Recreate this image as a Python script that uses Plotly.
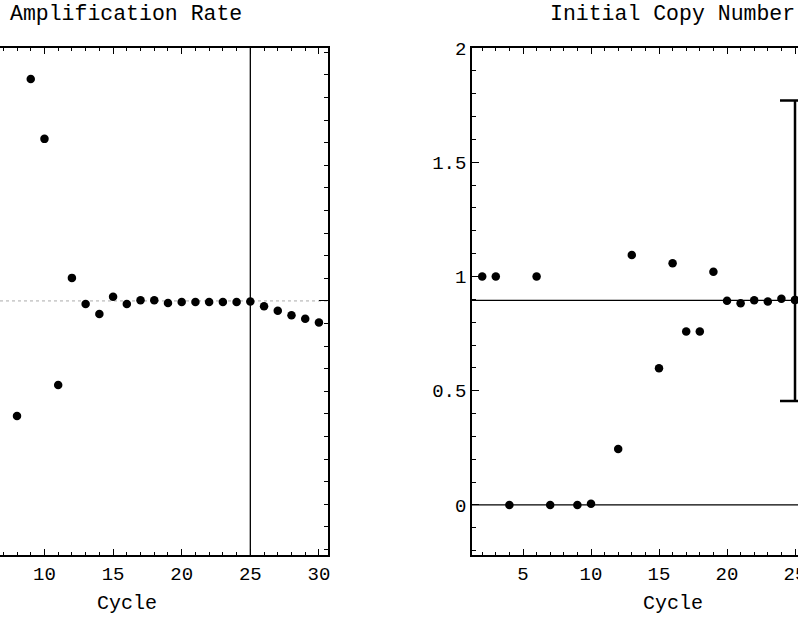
import plotly.graph_objects as go

# ---- data ----
rate_cycles = [8, 9, 10, 11, 12, 13, 14, 15, 16, 17, 18, 19, 20, 21, 22, 23, 24, 25, 26, 27, 28, 29, 30]
rate_values = [0.491, 1.982, 1.717, 0.628, 1.102, 0.986, 0.942, 1.019, 0.986, 1.003, 1.003, 0.991,
               0.995, 0.995, 0.995, 0.995, 0.995, 0.997, 0.976, 0.957, 0.937, 0.921, 0.905]
rate_reference = 1.0
rate_cutoff_cycle = 25

copy_cycles = [2, 3, 4, 6, 7, 9, 10, 12, 13, 15, 16, 17, 18, 19, 20, 21, 22, 23, 24, 25]
copy_values = [1.0, 1.0, 0.0, 1.0, 0.0, 0.0, 0.005, 0.245, 1.094, 0.598, 1.058, 0.759, 0.759, 1.021,
               0.894, 0.883, 0.896, 0.890, 0.903, 0.897]
copy_mean = 0.895
copy_err_cycle = [25]
copy_err_center = [0.897]
copy_err_upper = [1.77]
copy_err_lower = [0.455]

left_xticks = [10, 15, 20, 25, 30]
right_xticks = [5, 10, 15, 20, 25]
right_yticks = [0, 0.5, 1, 1.5, 2]
right_yticktext = ["0", "0.5", "1", "1.5", "2"]

FONT = "Liberation Mono, Courier New, monospace"
W, H = 798, 618
MT, MB = 48, 63

fig = go.Figure()

fig.add_trace(go.Scatter(x=rate_cycles, y=rate_values, mode="markers",
                         marker=dict(color="black", size=8.5), xaxis="x", yaxis="y",
                         showlegend=False))
fig.add_trace(go.Scatter(x=copy_cycles, y=copy_values, mode="markers",
                         marker=dict(color="black", size=8.5), xaxis="x2", yaxis="y2",
                         showlegend=False))
fig.add_trace(go.Scatter(x=copy_err_cycle, y=copy_err_center, mode="markers",
                         marker=dict(color="black", size=8.5), xaxis="x2", yaxis="y2",
                         error_y=dict(type="data", symmetric=False,
                                      array=[u - c for u, c in zip(copy_err_upper, copy_err_center)],
                                      arrayminus=[c - l for l, c in zip(copy_err_lower, copy_err_center)],
                                      color="black", thickness=2.5, width=15),
                         showlegend=False))

axis_common = dict(showgrid=False, zeroline=False, ticks="inside", tickcolor="black",
                   linecolor="black", linewidth=1.5, tickwidth=1,
                   ticklabeloverflow="allow", automargin=False,
                   tickfont=dict(family=FONT, size=19, color="black"))

fig.update_layout(
    width=W, height=H,
    margin=dict(l=0, r=0, t=MT, b=MB),
    paper_bgcolor="white", plot_bgcolor="white",
    font=dict(family=FONT, color="black"),
    xaxis=dict(domain=[0, 328 / W], range=[6.76, 30.66], anchor="y",
               tickvals=left_xticks, ticktext=[str(v) for v in left_xticks],
               showline=True, mirror="allticks", ticklen=6,
               minor=dict(dtick=1, tick0=0, ticks="inside", ticklen=3, tickcolor="black"),
               **axis_common),
    yaxis=dict(domain=[0, 1], range=[-0.124, 2.119], anchor="x", side="right",
               tickvals=[rate_reference], showticklabels=False, ticklen=9,
               showline=True, mirror=False,
               minor=dict(dtick=0.1, tick0=0, ticks="inside", ticklen=4, tickcolor="black"),
               **axis_common),
    xaxis2=dict(domain=[472 / W, 1.0], range=[1.25, 25.22], anchor="y2",
                tickvals=right_xticks, ticktext=[str(v) for v in right_xticks],
                showline=True, mirror="allticks", ticklen=6,
                minor=dict(dtick=1, tick0=0, ticks="inside", ticklen=3, tickcolor="black"),
                **axis_common),
    yaxis2=dict(domain=[0, 1], range=[-0.219, 2.0], anchor="x2", side="left",
                tickvals=right_yticks, ticktext=right_yticktext, ticklen=7,
                showline=True, mirror=False,
                minor=dict(dtick=0.1, tick0=0, ticks="inside", ticklen=4, tickcolor="black"),
                **axis_common),
)

# reference lines
fig.add_shape(type="line", xref="x domain", yref="y", x0=0, x1=1, y0=rate_reference, y1=rate_reference,
              line=dict(color="#aaaaaa", width=1, dash="dot"), layer="below")
fig.add_shape(type="line", xref="x", yref="y domain", x0=rate_cutoff_cycle, x1=rate_cutoff_cycle, y0=0, y1=1,
              line=dict(color="black", width=1.3))
fig.add_shape(type="line", xref="x2 domain", yref="y2", x0=0, x1=1, y0=copy_mean, y1=copy_mean,
              line=dict(color="black", width=1.3), layer="below")
fig.add_shape(type="line", xref="x2 domain", yref="y2", x0=0, x1=1, y0=0, y1=0,
              line=dict(color="black", width=1.3), layer="below")

# titles and axis labels
plot_h = H - MT - MB
for txt, xc, yc, fs in [("Amplification Rate", 126, 14, 21.5), ("Initial Copy Number", 672, 14, 21.5),
                        ("Cycle", 127, 603, 20), ("Cycle", 673, 603, 20)]:
    fig.add_annotation(text=txt, xref="paper", yref="paper",
                       x=xc / W, y=(H - MB - yc) / plot_h,
                       xanchor="center", yanchor="middle", showarrow=False,
                       font=dict(family=FONT, size=fs, color="black"))

fig.write_html("out.html")
